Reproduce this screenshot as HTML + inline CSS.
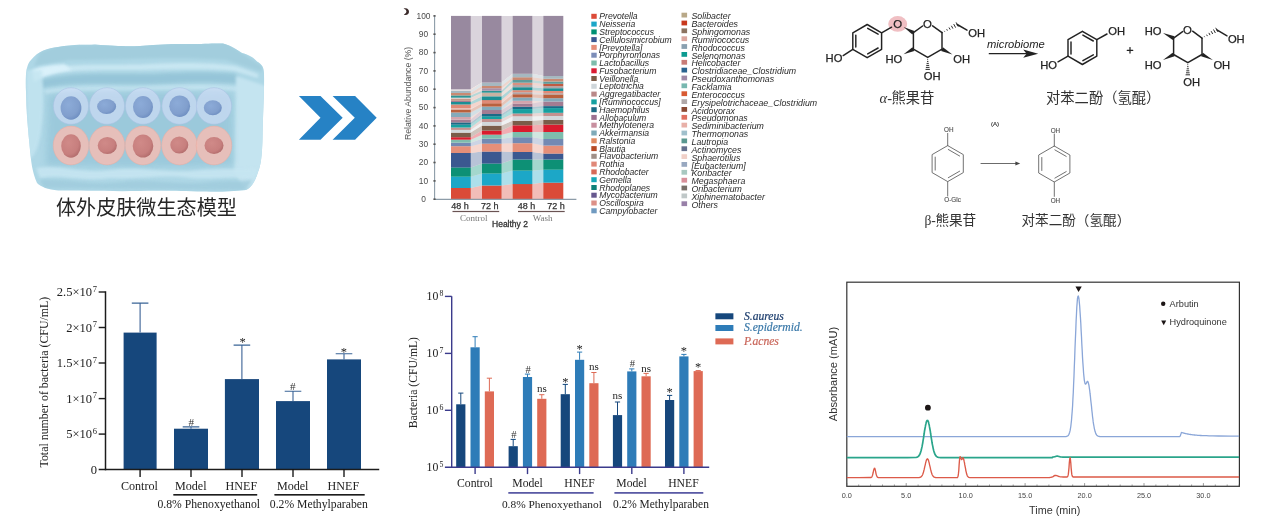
<!DOCTYPE html>
<html><head><meta charset="utf-8"><title>figure</title>
<style>
html,body{margin:0;padding:0;background:#fff;}
body{width:1267px;height:529px;overflow:hidden;position:relative;font-family:"Liberation Sans",sans-serif;}
svg{position:absolute;left:0;top:0;display:block}
.sans{font-family:"Liberation Sans",sans-serif}
.serif{font-family:"Liberation Serif",serif}
.cjk{font-family:"Liberation Sans","Noto Sans CJK SC",sans-serif}
</style></head><body>
<svg width="1267" height="529" viewBox="0 0 1267 529">
<defs><filter id="gb" x="0" y="0" width="1267" height="529" filterUnits="userSpaceOnUse"><feGaussianBlur stdDeviation="0.5"/></filter></defs>
<rect width="1267" height="529" fill="#ffffff"/>
<g filter="url(#gb)">
<g id="ice">
<defs><clipPath id="iceclip"><path d="M31,60 C38,51 48,48 58,47 C75,44 85,45 95,44.5 C115,46 125,46.5 140,46 C160,44.5 170,44 180,44 C200,44.5 212,43 223,43.5 C232,46 237,50 242,53 C250,55 254,58 257,61.5 C262,64 264,68 264,73 C264.5,90 263,110 262.5,139 C262,155 261,165 258,172 C255,182 251,188 246,190 C225,192.5 210,191.5 197,191.5 C175,191 160,190.5 140,191 C110,191.5 80,190.5 58,190.5 C48,189.5 41,187 37,183 C32,172 31,160 30,150 C28,130 26,110 26,92 C25.5,80 26,70 27,68 C28,64 29,62 31,60 Z"/></clipPath><filter id="b1" x="-10%" y="-10%" width="120%" height="120%"><feGaussianBlur stdDeviation="0.7"/></filter><filter id="b2" x="-10%" y="-10%" width="120%" height="120%"><feGaussianBlur stdDeviation="1.6"/></filter><filter id="b3" x="-20%" y="-20%" width="140%" height="140%"><feGaussianBlur stdDeviation="3"/></filter><radialGradient id="gnb" cx="0.38" cy="0.36" r="0.7"><stop offset="0" stop-color="#8cabd8"/><stop offset="0.7" stop-color="#819fcd"/><stop offset="1" stop-color="#6c8dc0"/></radialGradient><radialGradient id="gnr" cx="0.38" cy="0.36" r="0.7"><stop offset="0" stop-color="#d08a88"/><stop offset="0.7" stop-color="#c77f7e"/><stop offset="1" stop-color="#b06a6a"/></radialGradient></defs>
<path d="M31,60 C38,51 48,48 58,47 C75,44 85,45 95,44.5 C115,46 125,46.5 140,46 C160,44.5 170,44 180,44 C200,44.5 212,43 223,43.5 C232,46 237,50 242,53 C250,55 254,58 257,61.5 C262,64 264,68 264,73 C264.5,90 263,110 262.5,139 C262,155 261,165 258,172 C255,182 251,188 246,190 C225,192.5 210,191.5 197,191.5 C175,191 160,190.5 140,191 C110,191.5 80,190.5 58,190.5 C48,189.5 41,187 37,183 C32,172 31,160 30,150 C28,130 26,110 26,92 C25.5,80 26,70 27,68 C28,64 29,62 31,60 Z" fill="#aed7e6" filter="url(#b1)"/>
<g clip-path="url(#iceclip)">
<path d="M40,52 L60,45 L225,42 L262,66 L262,72 L226,60 C180,56 120,60 70,60 L34,66 Z" fill="#a2cddd" filter="url(#b2)"/>
<path d="M36,70 C70,62 110,66 150,64 C190,62 215,63 236,66 L258,74 L258,78 L234,71 C200,68 170,70 140,70 C100,70 70,69 38,76 Z" fill="#cbe8f3" opacity="0.9" filter="url(#b2)"/>
<path d="M32,70 C40,66 52,65 64,64 L72,70 C60,72 48,74 34,82 Z" fill="#dcf2fb" opacity="0.9" filter="url(#b2)"/>
<path d="M40,80 C70,72 110,74 150,74 C190,72 215,72 236,74 L240,84 C200,80 170,84 140,84 C100,84 70,82 42,88 Z" fill="#94c4d7" opacity="0.9" filter="url(#b2)"/>
<path d="M44,90 C80,84 120,88 160,86 C200,84 220,85 238,87 L238,91 C200,89 170,91 140,91 C100,91 70,90 46,94 Z" fill="#c8e6f2" opacity="0.8" filter="url(#b2)"/>
<path d="M236,76 L266,86 L264,175 L246,191 L234,172 Z" fill="#c4e4f0" filter="url(#b2)"/>
<path d="M48,95 C90,92 180,91 232,94 L233,165 C180,168 100,167 46,165 Z" fill="#9ac8da" opacity="0.9" filter="url(#b3)"/>
<path d="M36,168 C60,164 80,174 110,170 C140,166 170,174 200,170 C220,168 240,170 258,168 L254,178 C230,176 210,180 190,178 C160,174 140,180 110,178 C80,182 60,174 40,178 Z" fill="#c6e5f1" opacity="0.9" filter="url(#b2)"/>
<path d="M40,180 C70,178 90,186 120,182 C150,178 180,186 210,182 C230,180 240,182 252,180 L246,190 L44,188 Z" fill="#9fcbdc" opacity="0.8" filter="url(#b2)"/>
<path d="M27,160 C40,158 46,120 42,70 L26,70 Z" fill="#c4e5f1" opacity="0.8" filter="url(#b2)"/>
</g>
<g filter="url(#b1)">
<ellipse cx="71" cy="106" rx="17.6" ry="18.3" fill="#cddcf5" fill-opacity="0.7" stroke="#a9c0e2" stroke-opacity="0.7" stroke-width="0.8"/>
<ellipse cx="107" cy="106" rx="17.6" ry="18.3" fill="#cddcf5" fill-opacity="0.7" stroke="#a9c0e2" stroke-opacity="0.7" stroke-width="0.8"/>
<ellipse cx="143" cy="106" rx="17.6" ry="18.3" fill="#cddcf5" fill-opacity="0.7" stroke="#a9c0e2" stroke-opacity="0.7" stroke-width="0.8"/>
<ellipse cx="179.5" cy="106" rx="17.6" ry="18.3" fill="#cddcf5" fill-opacity="0.7" stroke="#a9c0e2" stroke-opacity="0.7" stroke-width="0.8"/>
<ellipse cx="214" cy="106" rx="17.6" ry="18.3" fill="#cddcf5" fill-opacity="0.7" stroke="#a9c0e2" stroke-opacity="0.7" stroke-width="0.8"/>
<ellipse cx="71" cy="145.5" rx="17.8" ry="19.4" fill="#f2beb4" fill-opacity="0.86" stroke="#e6aca4" stroke-opacity="0.7" stroke-width="0.8"/>
<ellipse cx="107" cy="145.5" rx="17.8" ry="19.4" fill="#f2beb4" fill-opacity="0.86" stroke="#e6aca4" stroke-opacity="0.7" stroke-width="0.8"/>
<ellipse cx="143" cy="145.5" rx="17.8" ry="19.4" fill="#f2beb4" fill-opacity="0.86" stroke="#e6aca4" stroke-opacity="0.7" stroke-width="0.8"/>
<ellipse cx="179.5" cy="145.5" rx="17.8" ry="19.4" fill="#f2beb4" fill-opacity="0.86" stroke="#e6aca4" stroke-opacity="0.7" stroke-width="0.8"/>
<ellipse cx="214" cy="145.5" rx="17.8" ry="19.4" fill="#f2beb4" fill-opacity="0.86" stroke="#e6aca4" stroke-opacity="0.7" stroke-width="0.8"/>
<ellipse cx="71" cy="108" rx="10.4" ry="11.7" fill="url(#gnb)"/>
<ellipse cx="106.6" cy="106.5" rx="9.5" ry="7.5" fill="url(#gnb)"/>
<ellipse cx="143" cy="107" rx="10" ry="11" fill="url(#gnb)"/>
<ellipse cx="179.7" cy="106.2" rx="10.4" ry="10.8" fill="url(#gnb)"/>
<ellipse cx="212.8" cy="107.8" rx="9" ry="7.5" fill="url(#gnb)"/>
<ellipse cx="71" cy="146" rx="9.8" ry="11.7" fill="url(#gnr)"/>
<ellipse cx="107.3" cy="145.5" rx="9.6" ry="8.6" fill="url(#gnr)"/>
<ellipse cx="143" cy="146" rx="10.3" ry="11.5" fill="url(#gnr)"/>
<ellipse cx="179.3" cy="145" rx="9" ry="8.6" fill="url(#gnr)"/>
<ellipse cx="214" cy="145.5" rx="9.5" ry="8.5" fill="url(#gnr)"/>
</g>
</g>
<text class="cjk" x="56" y="214.5" font-size="20.1" fill="#262626">体外皮肤微生态模型</text>
<path fill="#2782c5" d="M298.9,95.9 L320.5,95.9 L342.7,117.8 L320.5,139.7 L298.9,139.7 L320.5,117.8 Z M332.6,95.9 L355.1,95.9 L376.7,117.8 L355.1,139.7 L332.6,139.7 L354.8,117.8 Z"/>
<g id="stack">
<defs><filter id="sb" x="-5%" y="-5%" width="110%" height="110%"><feGaussianBlur stdDeviation="0.45"/></filter></defs>
<g filter="url(#sb)">
<g opacity="0.36">
<path d="M470.8,89.3 L482.0,82.6 L482.0,15.9 L470.8,15.9 Z" fill="#98899f"/>
<path d="M470.8,199.2 L482.0,199.2 L482.0,82.6 L470.8,89.3 Z" fill="#d9a9a0"/>
<path d="M470.8,199.2 L482.0,199.2 L482.0,185.5 L470.8,187.9 Z" fill="#da4b38"/>
<path d="M470.8,187.9 L482.0,185.5 L482.0,173.4 L470.8,176.7 Z" fill="#1fa7c7"/>
<path d="M470.8,176.7 L482.0,173.4 L482.0,163.5 L470.8,167.4 Z" fill="#079075"/>
<path d="M470.8,167.4 L482.0,163.5 L482.0,151.5 L470.8,152.9 Z" fill="#3a5990"/>
<path d="M470.8,152.9 L482.0,151.5 L482.0,143.6 L470.8,146.2 Z" fill="#e58f79"/>
<path d="M470.8,146.2 L482.0,143.6 L482.0,138.7 L470.8,142.7 Z" fill="#7389b3"/>
<path d="M470.8,142.7 L482.0,138.7 L482.0,134.7 L470.8,139.7 Z" fill="#7ebdad"/>
<path d="M470.8,139.7 L482.0,134.7 L482.0,130.6 L470.8,137.2 Z" fill="#d91f2e"/>
<path d="M470.8,137.2 L482.0,130.6 L482.0,125.6 L470.8,132.6 Z" fill="#7a5b48"/>
<path d="M470.8,132.6 L482.0,125.6 L482.0,121.9 L470.8,129.8 Z" fill="#d2d8db"/>
<path d="M470.8,129.8 L482.0,121.9 L482.0,119 L470.8,127.5 Z" fill="#c39290"/>
<path d="M470.8,127.5 L482.0,119 L482.0,116.2 L470.8,124.7 Z" fill="#12a0a0"/>
<path d="M470.8,124.7 L482.0,116.2 L482.0,114 L470.8,122.4 Z" fill="#1b6b87"/>
<path d="M470.8,122.4 L482.0,114 L482.0,110 L470.8,119.6 Z" fill="#a27b92"/>
<path d="M470.8,117 L482.0,110 L482.0,106.6 L470.8,112.5 Z" fill="#84aaba"/>
<path d="M470.8,112.5 L482.0,106.6 L482.0,103.2 L470.8,109.4 Z" fill="#b9603e"/>
<path d="M470.8,108.3 L482.0,103.2 L482.0,100 L470.8,104.5 Z" fill="#e08a76"/>
<path d="M470.8,104.5 L482.0,100 L482.0,96.3 L470.8,102 Z" fill="#1d8f94"/>
<path d="M470.8,100.9 L482.0,96.3 L482.0,92.7 L470.8,98.4 Z" fill="#c49a8c"/>
<path d="M470.8,97.7 L482.0,92.7 L482.0,90.7 L470.8,95.4 Z" fill="#2f9494"/>
<path d="M470.8,95.4 L482.0,88.2 L482.0,85.9 L470.8,92.9 Z" fill="#c98a72"/>
<path d="M470.8,92.9 L482.0,85.9 L482.0,82.6 L470.8,90.7 Z" fill="#a6b8c0"/>
</g>
<g opacity="0.36">
<path d="M501.6,82.6 L512.6,73.8 L512.6,15.9 L501.6,15.9 Z" fill="#98899f"/>
<path d="M501.6,199.2 L512.6,199.2 L512.6,73.8 L501.6,82.6 Z" fill="#d9a9a0"/>
<path d="M501.6,199.2 L512.6,199.2 L512.6,184 L501.6,185.5 Z" fill="#da4b38"/>
<path d="M501.6,185.5 L512.6,184 L512.6,170.5 L501.6,173.4 Z" fill="#1fa7c7"/>
<path d="M501.6,173.4 L512.6,170.5 L512.6,159.5 L501.6,163.5 Z" fill="#079075"/>
<path d="M501.6,163.5 L512.6,159.5 L512.6,151.9 L501.6,151.5 Z" fill="#3a5990"/>
<path d="M501.6,151.5 L512.6,151.9 L512.6,143.2 L501.6,143.6 Z" fill="#e58f79"/>
<path d="M501.6,143.6 L512.6,143.2 L512.6,137.2 L501.6,138.7 Z" fill="#7389b3"/>
<path d="M501.6,138.7 L512.6,137.2 L512.6,131.9 L501.6,134.7 Z" fill="#7ebdad"/>
<path d="M501.6,134.7 L512.6,131.9 L512.6,125.3 L501.6,130.6 Z" fill="#d91f2e"/>
<path d="M501.6,130.6 L512.6,125.3 L512.6,120.7 L501.6,125.6 Z" fill="#7a5b48"/>
<path d="M501.6,125.6 L512.6,120.7 L512.6,116.3 L501.6,121.9 Z" fill="#d2d8db"/>
<path d="M501.6,121.9 L512.6,116.3 L512.6,113.4 L501.6,119 Z" fill="#c39290"/>
<path d="M501.6,119 L512.6,113.4 L512.6,109.1 L501.6,116.2 Z" fill="#12a0a0"/>
<path d="M501.6,116.2 L512.6,109.1 L512.6,106.8 L501.6,114 Z" fill="#1b6b87"/>
<path d="M501.6,114 L512.6,106.8 L512.6,103.5 L501.6,110 Z" fill="#a27b92"/>
<path d="M501.6,110 L512.6,100.8 L512.6,97.5 L501.6,106.6 Z" fill="#84aaba"/>
<path d="M501.6,106.6 L512.6,97.5 L512.6,94.2 L501.6,103.2 Z" fill="#b9603e"/>
<path d="M501.6,103.2 L512.6,92.2 L512.6,90.2 L501.6,100 Z" fill="#e08a76"/>
<path d="M501.6,100 L512.6,90.2 L512.6,87.2 L501.6,96.3 Z" fill="#1d8f94"/>
<path d="M501.6,96.3 L512.6,87.2 L512.6,84.9 L501.6,92.7 Z" fill="#c8b2a2"/>
<path d="M501.6,92.7 L512.6,82.7 L512.6,79.9 L501.6,90.7 Z" fill="#2f9494"/>
<path d="M501.6,88.2 L512.6,79.9 L512.6,77.2 L501.6,85.9 Z" fill="#c98a72"/>
<path d="M501.6,85.9 L512.6,77.2 L512.6,73.8 L501.6,82.6 Z" fill="#a6b8c0"/>
</g>
<g opacity="0.36">
<path d="M532.4,73.8 L543.3,76 L543.3,15.9 L532.4,15.9 Z" fill="#98899f"/>
<path d="M532.4,199.2 L543.3,199.2 L543.3,76 L532.4,73.8 Z" fill="#d9a9a0"/>
<path d="M532.4,199.2 L543.3,199.2 L543.3,182.6 L532.4,184 Z" fill="#da4b38"/>
<path d="M532.4,184 L543.3,182.6 L543.3,169.7 L532.4,170.5 Z" fill="#1fa7c7"/>
<path d="M532.4,170.5 L543.3,169.7 L543.3,159.5 L532.4,159.5 Z" fill="#079075"/>
<path d="M532.4,159.5 L543.3,159.5 L543.3,153.5 L532.4,151.9 Z" fill="#3a5990"/>
<path d="M532.4,151.9 L543.3,153.5 L543.3,145.6 L532.4,143.2 Z" fill="#e58f79"/>
<path d="M532.4,143.2 L543.3,145.6 L543.3,139 L532.4,137.2 Z" fill="#7389b3"/>
<path d="M532.4,137.2 L543.3,139 L543.3,131.9 L532.4,131.9 Z" fill="#7ebdad"/>
<path d="M532.4,131.9 L543.3,131.9 L543.3,124.6 L532.4,125.3 Z" fill="#d91f2e"/>
<path d="M532.4,125.3 L543.3,124.6 L543.3,120 L532.4,120.7 Z" fill="#7a5b48"/>
<path d="M532.4,120.7 L543.3,120 L543.3,116 L532.4,116.3 Z" fill="#d2d8db"/>
<path d="M532.4,116.3 L543.3,116 L543.3,112.7 L532.4,113.4 Z" fill="#c39290"/>
<path d="M532.4,113.4 L543.3,112.7 L543.3,108.1 L532.4,109.1 Z" fill="#12a0a0"/>
<path d="M532.4,109.1 L543.3,108.1 L543.3,106.1 L532.4,106.8 Z" fill="#1b6b87"/>
<path d="M532.4,106.8 L543.3,106.1 L543.3,101.5 L532.4,103.5 Z" fill="#a27b92"/>
<path d="M532.4,100.8 L543.3,101.5 L543.3,98.2 L532.4,97.5 Z" fill="#84aaba"/>
<path d="M532.4,97.5 L543.3,98.2 L543.3,94.4 L532.4,94.2 Z" fill="#b9603e"/>
<path d="M532.4,94.2 L543.3,94.4 L543.3,93.2 L532.4,92.2 Z" fill="#b0a4a6"/>
<path d="M532.4,92.2 L543.3,93.2 L543.3,91 L532.4,90.2 Z" fill="#e08a76"/>
<path d="M532.4,90.2 L543.3,91 L543.3,88.2 L532.4,87.2 Z" fill="#1d8f94"/>
<path d="M532.4,87.2 L543.3,88.2 L543.3,86.2 L532.4,84.9 Z" fill="#b0a4a6"/>
<path d="M532.4,84.9 L543.3,86.2 L543.3,83.7 L532.4,82.7 Z" fill="#d89080"/>
<path d="M532.4,82.7 L543.3,83.7 L543.3,81.5 L532.4,79.9 Z" fill="#5f9b9b"/>
<path d="M532.4,79.9 L543.3,81.5 L543.3,78.7 L532.4,77.2 Z" fill="#c98a72"/>
<path d="M532.4,77.2 L543.3,78.7 L543.3,76 L532.4,73.8 Z" fill="#a6b8c0"/>
</g>
<rect x="451.0" y="187.9" width="19.8" height="11.3" fill="#da4b38"/>
<rect x="451.0" y="176.7" width="19.8" height="11.3" fill="#1fa7c7"/>
<rect x="451.0" y="167.4" width="19.8" height="9.3" fill="#079075"/>
<rect x="451.0" y="152.9" width="19.8" height="14.6" fill="#3a5990"/>
<rect x="451.0" y="146.2" width="19.8" height="6.8" fill="#e58f79"/>
<rect x="451.0" y="142.7" width="19.8" height="3.5" fill="#7389b3"/>
<rect x="451.0" y="139.7" width="19.8" height="3.0" fill="#7ebdad"/>
<rect x="451.0" y="137.2" width="19.8" height="2.5" fill="#d91f2e"/>
<rect x="451.0" y="132.6" width="19.8" height="4.6" fill="#7a5b48"/>
<rect x="451.0" y="129.8" width="19.8" height="2.8" fill="#d2d8db"/>
<rect x="451.0" y="127.5" width="19.8" height="2.4" fill="#c39290"/>
<rect x="451.0" y="124.7" width="19.8" height="2.8" fill="#12a0a0"/>
<rect x="451.0" y="122.4" width="19.8" height="2.3" fill="#1b6b87"/>
<rect x="451.0" y="119.6" width="19.8" height="2.9" fill="#a27b92"/>
<rect x="451.0" y="117.0" width="19.8" height="2.6" fill="#d3a4ac"/>
<rect x="451.0" y="112.5" width="19.8" height="4.5" fill="#84aaba"/>
<rect x="451.0" y="109.4" width="19.8" height="3.1" fill="#b9603e"/>
<rect x="451.0" y="108.3" width="19.8" height="1.2" fill="#e8c2bc"/>
<rect x="451.0" y="104.5" width="19.8" height="3.8" fill="#e08a76"/>
<rect x="451.0" y="102.0" width="19.8" height="2.5" fill="#1d8f94"/>
<rect x="451.0" y="100.9" width="19.8" height="1.1" fill="#a27b92"/>
<rect x="451.0" y="98.4" width="19.8" height="2.5" fill="#c49a8c"/>
<rect x="451.0" y="97.7" width="19.8" height="0.8" fill="#e2dcdc"/>
<rect x="451.0" y="95.4" width="19.8" height="2.3" fill="#2f9494"/>
<rect x="451.0" y="92.9" width="19.8" height="2.5" fill="#c98a72"/>
<rect x="451.0" y="90.7" width="19.8" height="2.3" fill="#a6b8c0"/>
<rect x="451.0" y="89.3" width="19.8" height="1.5" fill="#e2dadd"/>
<rect x="451.0" y="15.9" width="19.8" height="73.4" fill="#98899f"/>
<rect x="482.0" y="185.5" width="19.6" height="13.7" fill="#da4b38"/>
<rect x="482.0" y="173.4" width="19.6" height="12.1" fill="#1fa7c7"/>
<rect x="482.0" y="163.5" width="19.6" height="10.0" fill="#079075"/>
<rect x="482.0" y="151.5" width="19.6" height="12.1" fill="#3a5990"/>
<rect x="482.0" y="143.6" width="19.6" height="8.0" fill="#e58f79"/>
<rect x="482.0" y="138.7" width="19.6" height="5.0" fill="#7389b3"/>
<rect x="482.0" y="134.7" width="19.6" height="4.0" fill="#7ebdad"/>
<rect x="482.0" y="130.6" width="19.6" height="4.1" fill="#d91f2e"/>
<rect x="482.0" y="125.6" width="19.6" height="5.0" fill="#7a5b48"/>
<rect x="482.0" y="121.9" width="19.6" height="3.7" fill="#d2d8db"/>
<rect x="482.0" y="119.0" width="19.6" height="3.0" fill="#c39290"/>
<rect x="482.0" y="116.2" width="19.6" height="2.8" fill="#12a0a0"/>
<rect x="482.0" y="114.0" width="19.6" height="2.3" fill="#1b6b87"/>
<rect x="482.0" y="110.0" width="19.6" height="4.0" fill="#a27b92"/>
<rect x="482.0" y="106.6" width="19.6" height="3.5" fill="#84aaba"/>
<rect x="482.0" y="103.2" width="19.6" height="3.4" fill="#b9603e"/>
<rect x="482.0" y="100.0" width="19.6" height="3.3" fill="#e08a76"/>
<rect x="482.0" y="96.3" width="19.6" height="3.8" fill="#1d8f94"/>
<rect x="482.0" y="92.7" width="19.6" height="3.6" fill="#c8b2a2"/>
<rect x="482.0" y="90.7" width="19.6" height="2.0" fill="#2f9494"/>
<rect x="482.0" y="88.2" width="19.6" height="2.5" fill="#a890a8"/>
<rect x="482.0" y="85.9" width="19.6" height="2.3" fill="#c98a72"/>
<rect x="482.0" y="82.6" width="19.6" height="3.4" fill="#a6b8c0"/>
<rect x="482.0" y="15.9" width="19.6" height="66.7" fill="#98899f"/>
<rect x="512.6" y="184.0" width="19.8" height="15.2" fill="#da4b38"/>
<rect x="512.6" y="170.5" width="19.8" height="13.6" fill="#1fa7c7"/>
<rect x="512.6" y="159.5" width="19.8" height="11.1" fill="#079075"/>
<rect x="512.6" y="151.9" width="19.8" height="7.6" fill="#3a5990"/>
<rect x="512.6" y="143.2" width="19.8" height="8.8" fill="#e58f79"/>
<rect x="512.6" y="137.2" width="19.8" height="6.0" fill="#7389b3"/>
<rect x="512.6" y="131.9" width="19.8" height="5.3" fill="#7ebdad"/>
<rect x="512.6" y="125.3" width="19.8" height="6.7" fill="#d91f2e"/>
<rect x="512.6" y="120.7" width="19.8" height="4.6" fill="#7a5b48"/>
<rect x="512.6" y="116.3" width="19.8" height="4.5" fill="#d2d8db"/>
<rect x="512.6" y="113.4" width="19.8" height="2.9" fill="#c39290"/>
<rect x="512.6" y="109.1" width="19.8" height="4.4" fill="#12a0a0"/>
<rect x="512.6" y="106.8" width="19.8" height="2.3" fill="#1b6b87"/>
<rect x="512.6" y="103.5" width="19.8" height="3.3" fill="#a27b92"/>
<rect x="512.6" y="100.8" width="19.8" height="2.8" fill="#d3a4ac"/>
<rect x="512.6" y="97.5" width="19.8" height="3.3" fill="#84aaba"/>
<rect x="512.6" y="94.2" width="19.8" height="3.3" fill="#b9603e"/>
<rect x="512.6" y="92.2" width="19.8" height="2.0" fill="#b0a4a6"/>
<rect x="512.6" y="90.2" width="19.8" height="2.0" fill="#e08a76"/>
<rect x="512.6" y="87.2" width="19.8" height="3.0" fill="#1d8f94"/>
<rect x="512.6" y="84.9" width="19.8" height="2.3" fill="#b0a4a6"/>
<rect x="512.6" y="82.7" width="19.8" height="2.3" fill="#d89080"/>
<rect x="512.6" y="79.9" width="19.8" height="2.8" fill="#5f9b9b"/>
<rect x="512.6" y="77.2" width="19.8" height="2.8" fill="#c98a72"/>
<rect x="512.6" y="73.8" width="19.8" height="3.5" fill="#a6b8c0"/>
<rect x="512.6" y="15.9" width="19.8" height="57.9" fill="#98899f"/>
<rect x="543.3" y="182.6" width="20.0" height="16.6" fill="#da4b38"/>
<rect x="543.3" y="169.7" width="20.0" height="13.0" fill="#1fa7c7"/>
<rect x="543.3" y="159.5" width="20.0" height="10.2" fill="#079075"/>
<rect x="543.3" y="153.5" width="20.0" height="6.0" fill="#3a5990"/>
<rect x="543.3" y="145.6" width="20.0" height="8.0" fill="#e58f79"/>
<rect x="543.3" y="139.0" width="20.0" height="6.6" fill="#7389b3"/>
<rect x="543.3" y="131.9" width="20.0" height="7.1" fill="#7ebdad"/>
<rect x="543.3" y="124.6" width="20.0" height="7.4" fill="#d91f2e"/>
<rect x="543.3" y="120.0" width="20.0" height="4.6" fill="#7a5b48"/>
<rect x="543.3" y="116.0" width="20.0" height="4.0" fill="#d2d8db"/>
<rect x="543.3" y="112.7" width="20.0" height="3.3" fill="#c39290"/>
<rect x="543.3" y="108.1" width="20.0" height="4.7" fill="#12a0a0"/>
<rect x="543.3" y="106.1" width="20.0" height="2.0" fill="#1b6b87"/>
<rect x="543.3" y="101.5" width="20.0" height="4.6" fill="#a27b92"/>
<rect x="543.3" y="98.2" width="20.0" height="3.3" fill="#84aaba"/>
<rect x="543.3" y="94.4" width="20.0" height="3.8" fill="#b9603e"/>
<rect x="543.3" y="93.2" width="20.0" height="1.3" fill="#b0a4a6"/>
<rect x="543.3" y="91.0" width="20.0" height="2.3" fill="#e08a76"/>
<rect x="543.3" y="88.2" width="20.0" height="2.8" fill="#1d8f94"/>
<rect x="543.3" y="86.2" width="20.0" height="2.0" fill="#b0a4a6"/>
<rect x="543.3" y="83.7" width="20.0" height="2.5" fill="#c05a42"/>
<rect x="543.3" y="81.5" width="20.0" height="2.3" fill="#5f9b9b"/>
<rect x="543.3" y="78.7" width="20.0" height="2.8" fill="#c98a72"/>
<rect x="543.3" y="76.0" width="20.0" height="2.8" fill="#a6b8c0"/>
<rect x="543.3" y="15.9" width="20.0" height="60.1" fill="#98899f"/>
</g>
<path d="M434.6,15.5 V199.4 H576.4" fill="none" stroke="#8d9ca8" stroke-width="1.1"/>
<rect x="433.4" y="198.4" width="2.2" height="1.6" fill="#555"/>
<text class="sans" x="423.5" y="201.8" font-size="8.4" fill="#4a4a4a" text-anchor="middle">0</text>
<rect x="433.4" y="180.1" width="2.2" height="1.6" fill="#555"/>
<text class="sans" x="423.5" y="183.5" font-size="8.4" fill="#4a4a4a" text-anchor="middle">10</text>
<rect x="433.4" y="161.7" width="2.2" height="1.6" fill="#555"/>
<text class="sans" x="423.5" y="165.1" font-size="8.4" fill="#4a4a4a" text-anchor="middle">20</text>
<rect x="433.4" y="143.4" width="2.2" height="1.6" fill="#555"/>
<text class="sans" x="423.5" y="146.8" font-size="8.4" fill="#4a4a4a" text-anchor="middle">30</text>
<rect x="433.4" y="125.1" width="2.2" height="1.6" fill="#555"/>
<text class="sans" x="423.5" y="128.5" font-size="8.4" fill="#4a4a4a" text-anchor="middle">40</text>
<rect x="433.4" y="106.8" width="2.2" height="1.6" fill="#555"/>
<text class="sans" x="423.5" y="110.1" font-size="8.4" fill="#4a4a4a" text-anchor="middle">50</text>
<rect x="433.4" y="88.4" width="2.2" height="1.6" fill="#555"/>
<text class="sans" x="423.5" y="91.8" font-size="8.4" fill="#4a4a4a" text-anchor="middle">60</text>
<rect x="433.4" y="70.1" width="2.2" height="1.6" fill="#555"/>
<text class="sans" x="423.5" y="73.5" font-size="8.4" fill="#4a4a4a" text-anchor="middle">70</text>
<rect x="433.4" y="51.8" width="2.2" height="1.6" fill="#555"/>
<text class="sans" x="423.5" y="55.2" font-size="8.4" fill="#4a4a4a" text-anchor="middle">80</text>
<rect x="433.4" y="33.4" width="2.2" height="1.6" fill="#555"/>
<text class="sans" x="423.5" y="36.8" font-size="8.4" fill="#4a4a4a" text-anchor="middle">90</text>
<rect x="433.4" y="15.1" width="2.2" height="1.6" fill="#555"/>
<text class="sans" x="423.5" y="18.5" font-size="8.4" fill="#4a4a4a" text-anchor="middle">100</text>
<text class="sans" transform="translate(411.2,93.4) rotate(-90)" font-size="8.7" fill="#555" text-anchor="middle">Relative Abundance (%)</text>
<text class="sans" x="460.1" y="208.5" font-size="9" fill="#333" stroke="#333" stroke-width="0.25" text-anchor="middle">48 h</text>
<text class="sans" x="489.8" y="208.5" font-size="9" fill="#333" stroke="#333" stroke-width="0.25" text-anchor="middle">72 h</text>
<text class="sans" x="526.5" y="208.5" font-size="9" fill="#333" stroke="#333" stroke-width="0.25" text-anchor="middle">48 h</text>
<text class="sans" x="556" y="208.5" font-size="9" fill="#333" stroke="#333" stroke-width="0.25" text-anchor="middle">72 h</text>
<rect x="452.5" y="210.9" width="46.7" height="1.2" fill="#6a5252"/>
<rect x="518" y="210.9" width="46.7" height="1.2" fill="#6a5252"/>
<text class="serif" x="473.8" y="220.6" font-size="9" fill="#777" text-anchor="middle">Control</text>
<text class="serif" x="542.7" y="220.6" font-size="9" fill="#777" text-anchor="middle">Wash</text>
<text class="sans" x="510" y="227" font-size="8.5" fill="#333" stroke="#333" stroke-width="0.3" text-anchor="middle">Healthy 2</text>
<path d="M403.6,8.6 C407.6,7.6 409,10 409,11.8 C409,13.8 407.4,15.6 403.8,14.8 C405.8,13.6 406.4,12.6 406.4,11.6 C406.4,10.4 405.6,9.4 403.6,8.6 Z" fill="#3b2b2b"/>
<rect x="591.3" y="13.8" width="5.4" height="5" fill="#dc4b37"/>
<text class="sans" x="599.3" y="19.4" font-size="8.65" font-style="italic" fill="#2a2a2a">Prevotella</text>
<rect x="591.3" y="21.6" width="5.4" height="5" fill="#1ea6c8"/>
<text class="sans" x="599.3" y="27.2" font-size="8.65" font-style="italic" fill="#2a2a2a">Neisseria</text>
<rect x="591.3" y="29.4" width="5.4" height="5" fill="#069073"/>
<text class="sans" x="599.3" y="35.0" font-size="8.65" font-style="italic" fill="#2a2a2a">Streptococcus</text>
<rect x="591.3" y="37.1" width="5.4" height="5" fill="#3b5892"/>
<text class="sans" x="599.3" y="42.7" font-size="8.65" font-style="italic" fill="#2a2a2a">Cellulosimicrobium</text>
<rect x="591.3" y="44.9" width="5.4" height="5" fill="#e58e78"/>
<text class="sans" x="599.3" y="50.5" font-size="8.65" font-style="italic" fill="#2a2a2a">[Prevotella]</text>
<rect x="591.3" y="52.7" width="5.4" height="5" fill="#7b8db8"/>
<text class="sans" x="599.3" y="58.3" font-size="8.65" font-style="italic" fill="#2a2a2a">Porphyromonas</text>
<rect x="591.3" y="60.5" width="5.4" height="5" fill="#7ebcac"/>
<text class="sans" x="599.3" y="66.1" font-size="8.65" font-style="italic" fill="#2a2a2a">Lactobacillus</text>
<rect x="591.3" y="68.3" width="5.4" height="5" fill="#da1f33"/>
<text class="sans" x="599.3" y="73.9" font-size="8.65" font-style="italic" fill="#2a2a2a">Fusobacterium</text>
<rect x="591.3" y="76.0" width="5.4" height="5" fill="#7b5b47"/>
<text class="sans" x="599.3" y="81.6" font-size="8.65" font-style="italic" fill="#2a2a2a">Veillonella</text>
<rect x="591.3" y="83.8" width="5.4" height="5" fill="#cfd6da"/>
<text class="sans" x="599.3" y="89.4" font-size="8.65" font-style="italic" fill="#2a2a2a">Leptotrichia</text>
<rect x="591.3" y="91.6" width="5.4" height="5" fill="#b98888"/>
<text class="sans" x="599.3" y="97.2" font-size="8.65" font-style="italic" fill="#2a2a2a">Aggregatibacter</text>
<rect x="591.3" y="99.4" width="5.4" height="5" fill="#14a0a0"/>
<text class="sans" x="599.3" y="105.0" font-size="8.65" font-style="italic" fill="#2a2a2a">[Ruminococcus]</text>
<rect x="591.3" y="107.2" width="5.4" height="5" fill="#1b6b85"/>
<text class="sans" x="599.3" y="112.8" font-size="8.65" font-style="italic" fill="#2a2a2a">Haemophilus</text>
<rect x="591.3" y="114.9" width="5.4" height="5" fill="#9b7090"/>
<text class="sans" x="599.3" y="120.5" font-size="8.65" font-style="italic" fill="#2a2a2a">Allobaculum</text>
<rect x="591.3" y="122.7" width="5.4" height="5" fill="#c890a0"/>
<text class="sans" x="599.3" y="128.3" font-size="8.65" font-style="italic" fill="#2a2a2a">Methylotenera</text>
<rect x="591.3" y="130.5" width="5.4" height="5" fill="#7faab8"/>
<text class="sans" x="599.3" y="136.1" font-size="8.65" font-style="italic" fill="#2a2a2a">Akkermansia</text>
<rect x="591.3" y="138.3" width="5.4" height="5" fill="#df8a62"/>
<text class="sans" x="599.3" y="143.9" font-size="8.65" font-style="italic" fill="#2a2a2a">Ralstonia</text>
<rect x="591.3" y="146.1" width="5.4" height="5" fill="#b64c28"/>
<text class="sans" x="599.3" y="151.7" font-size="8.65" font-style="italic" fill="#2a2a2a">Blautia</text>
<rect x="591.3" y="153.8" width="5.4" height="5" fill="#a09088"/>
<text class="sans" x="599.3" y="159.4" font-size="8.65" font-style="italic" fill="#2a2a2a">Flavobacterium</text>
<rect x="591.3" y="161.6" width="5.4" height="5" fill="#e08878"/>
<text class="sans" x="599.3" y="167.2" font-size="8.65" font-style="italic" fill="#2a2a2a">Rothia</text>
<rect x="591.3" y="169.4" width="5.4" height="5" fill="#d66a58"/>
<text class="sans" x="599.3" y="175.0" font-size="8.65" font-style="italic" fill="#2a2a2a">Rhodobacter</text>
<rect x="591.3" y="177.2" width="5.4" height="5" fill="#18a8b8"/>
<text class="sans" x="599.3" y="182.8" font-size="8.65" font-style="italic" fill="#2a2a2a">Gemella</text>
<rect x="591.3" y="185.0" width="5.4" height="5" fill="#0a8078"/>
<text class="sans" x="599.3" y="190.6" font-size="8.65" font-style="italic" fill="#2a2a2a">Rhodoplanes</text>
<rect x="591.3" y="192.7" width="5.4" height="5" fill="#66588e"/>
<text class="sans" x="599.3" y="198.3" font-size="8.65" font-style="italic" fill="#2a2a2a">Mycobacterium</text>
<rect x="591.3" y="200.5" width="5.4" height="5" fill="#dc9088"/>
<text class="sans" x="599.3" y="206.1" font-size="8.65" font-style="italic" fill="#2a2a2a">Oscillospira</text>
<rect x="591.3" y="208.3" width="5.4" height="5" fill="#6f9ac0"/>
<text class="sans" x="599.3" y="213.9" font-size="8.65" font-style="italic" fill="#2a2a2a">Campylobacter</text>
<rect x="681.5" y="12.7" width="5.6" height="4.8" fill="#b8a888"/>
<text class="sans" x="691.5" y="19.2" font-size="8.8" font-style="italic" fill="#2a2a2a">Solibacter</text>
<rect x="681.5" y="20.6" width="5.6" height="4.8" fill="#c8391f"/>
<text class="sans" x="691.5" y="27.1" font-size="8.8" font-style="italic" fill="#2a2a2a">Bacteroides</text>
<rect x="681.5" y="28.4" width="5.6" height="4.8" fill="#8b7360"/>
<text class="sans" x="691.5" y="34.9" font-size="8.8" font-style="italic" fill="#2a2a2a">Sphingomonas</text>
<rect x="681.5" y="36.3" width="5.6" height="4.8" fill="#dca8a0"/>
<text class="sans" x="691.5" y="42.8" font-size="8.8" font-style="italic" fill="#2a2a2a">Ruminococcus</text>
<rect x="681.5" y="44.1" width="5.6" height="4.8" fill="#8aa0b0"/>
<text class="sans" x="691.5" y="50.6" font-size="8.8" font-style="italic" fill="#2a2a2a">Rhodococcus</text>
<rect x="681.5" y="52.0" width="5.6" height="4.8" fill="#0a9a90"/>
<text class="sans" x="691.5" y="58.5" font-size="8.8" font-style="italic" fill="#2a2a2a">Selenomonas</text>
<rect x="681.5" y="59.9" width="5.6" height="4.8" fill="#c87c78"/>
<text class="sans" x="691.5" y="66.4" font-size="8.8" font-style="italic" fill="#2a2a2a">Helicobacter</text>
<rect x="681.5" y="67.7" width="5.6" height="4.8" fill="#2a6490"/>
<text class="sans" x="691.5" y="74.2" font-size="8.8" font-style="italic" fill="#2a2a2a">Clostridiaceae_Clostridium</text>
<rect x="681.5" y="75.6" width="5.6" height="4.8" fill="#a08aa8"/>
<text class="sans" x="691.5" y="82.1" font-size="8.8" font-style="italic" fill="#2a2a2a">Pseudoxanthomonas</text>
<rect x="681.5" y="83.4" width="5.6" height="4.8" fill="#78b8b0"/>
<text class="sans" x="691.5" y="89.9" font-size="8.8" font-style="italic" fill="#2a2a2a">Facklamia</text>
<rect x="681.5" y="91.3" width="5.6" height="4.8" fill="#d85a30"/>
<text class="sans" x="691.5" y="97.8" font-size="8.8" font-style="italic" fill="#2a2a2a">Enterococcus</text>
<rect x="681.5" y="99.2" width="5.6" height="4.8" fill="#b0a8a8"/>
<text class="sans" x="691.5" y="105.7" font-size="8.8" font-style="italic" fill="#2a2a2a">Erysipelotrichaceae_Clostridium</text>
<rect x="681.5" y="107.0" width="5.6" height="4.8" fill="#8a4830"/>
<text class="sans" x="691.5" y="113.5" font-size="8.8" font-style="italic" fill="#2a2a2a">Acidovorax</text>
<rect x="681.5" y="114.9" width="5.6" height="4.8" fill="#e07060"/>
<text class="sans" x="691.5" y="121.4" font-size="8.8" font-style="italic" fill="#2a2a2a">Pseudomonas</text>
<rect x="681.5" y="122.7" width="5.6" height="4.8" fill="#e8b0a8"/>
<text class="sans" x="691.5" y="129.2" font-size="8.8" font-style="italic" fill="#2a2a2a">Sediminibacterium</text>
<rect x="681.5" y="130.6" width="5.6" height="4.8" fill="#a0c0cc"/>
<text class="sans" x="691.5" y="137.1" font-size="8.8" font-style="italic" fill="#2a2a2a">Thermomonas</text>
<rect x="681.5" y="138.5" width="5.6" height="4.8" fill="#5a9890"/>
<text class="sans" x="691.5" y="145.0" font-size="8.8" font-style="italic" fill="#2a2a2a">Lautropia</text>
<rect x="681.5" y="146.3" width="5.6" height="4.8" fill="#66708e"/>
<text class="sans" x="691.5" y="152.8" font-size="8.8" font-style="italic" fill="#2a2a2a">Actinomyces</text>
<rect x="681.5" y="154.2" width="5.6" height="4.8" fill="#f0d0c8"/>
<text class="sans" x="691.5" y="160.7" font-size="8.8" font-style="italic" fill="#2a2a2a">Sphaerotilus</text>
<rect x="681.5" y="162.0" width="5.6" height="4.8" fill="#98a8c0"/>
<text class="sans" x="691.5" y="168.5" font-size="8.8" font-style="italic" fill="#2a2a2a">[Eubacterium]</text>
<rect x="681.5" y="169.9" width="5.6" height="4.8" fill="#a8c8c0"/>
<text class="sans" x="691.5" y="176.4" font-size="8.8" font-style="italic" fill="#2a2a2a">Koribacter</text>
<rect x="681.5" y="177.8" width="5.6" height="4.8" fill="#d8909a"/>
<text class="sans" x="691.5" y="184.3" font-size="8.8" font-style="italic" fill="#2a2a2a">Megasphaera</text>
<rect x="681.5" y="185.6" width="5.6" height="4.8" fill="#78706a"/>
<text class="sans" x="691.5" y="192.1" font-size="8.8" font-style="italic" fill="#2a2a2a">Oribacterium</text>
<rect x="681.5" y="193.5" width="5.6" height="4.8" fill="#c0c8c8"/>
<text class="sans" x="691.5" y="200.0" font-size="8.8" font-style="italic" fill="#2a2a2a">Xiphinematobacter</text>
<rect x="681.5" y="201.3" width="5.6" height="4.8" fill="#9880a8"/>
<text class="sans" x="691.5" y="207.8" font-size="8.8" font-style="italic" fill="#2a2a2a">Others</text>
</g>
<g id="chem">
<ellipse cx="897.7" cy="23.9" rx="9.5" ry="7.8" fill="#f0bfc3"/>
<path d="M867.2,24.5 L881.6,32.8 L881.6,49.4 L867.2,57.7 L852.8,49.4 L852.8,32.8 L867.2,24.5" stroke="#222" stroke-width="1.45" fill="none" stroke-linecap="round" stroke-linejoin="round"/>
<path d="M867.7,28.3 L878.1,34.2" stroke="#222" stroke-width="1.45" fill="none" stroke-linecap="round" stroke-linejoin="round"/>
<path d="M878.1,48.0 L867.7,53.9" stroke="#222" stroke-width="1.45" fill="none" stroke-linecap="round" stroke-linejoin="round"/>
<path d="M855.8,47.1 L855.8,35.1" stroke="#222" stroke-width="1.45" fill="none" stroke-linecap="round" stroke-linejoin="round"/>
<path d="M852.8,49.4 L843.2,55.6" stroke="#222" stroke-width="1.45" fill="none" stroke-linecap="round" stroke-linejoin="round"/>
<text class="sans" x="825.6" y="62.4" font-size="11.2" fill="#222" text-anchor="start" stroke="#222" stroke-width="0.25">HO</text>
<path d="M881.6,32.8 L891.6,27.2" stroke="#222" stroke-width="1.45" fill="none" stroke-linecap="round" stroke-linejoin="round"/>
<text class="sans" x="897.7" y="27.9" font-size="11.4" fill="#222" text-anchor="middle" stroke="#222" stroke-width="0.25">O</text>
<path d="M903.6,27.0 L912.4,34.4 L914.4,30.9 Z" fill="#222"/>
<path d="M913.4,32.6 L922.6,26.0" stroke="#222" stroke-width="1.45" fill="none" stroke-linecap="round" stroke-linejoin="round"/>
<path d="M932.6,25.8 L942.0,32.6" stroke="#222" stroke-width="1.45" fill="none" stroke-linecap="round" stroke-linejoin="round"/>
<path d="M942.0,32.6 L942.0,49.1 L927.7,57.4 L913.4,49.2 L913.4,32.6" stroke="#222" stroke-width="1.45" fill="none" stroke-linecap="round" stroke-linejoin="round"/>
<text class="sans" x="927.4" y="27.9" font-size="11.4" fill="#222" text-anchor="middle" stroke="#222" stroke-width="0.25">O</text>
<path d="M944.7,31.6 L944.3,30.9 M947.4,30.6 L946.7,29.2 M950.2,29.6 L949.0,27.5 M952.9,28.6 L951.4,25.8 M955.6,27.6 L953.7,24.1 M958.3,26.6 L956.1,22.4" stroke="#222" stroke-width="0.95" fill="none"/>
<path d="M957.2,24.5 L967.0,30.2" stroke="#222" stroke-width="1.45" fill="none" stroke-linecap="round" stroke-linejoin="round"/>
<text class="sans" x="968.3" y="36.8" font-size="11.2" fill="#222" text-anchor="start" stroke="#222" stroke-width="0.25">OH</text>
<path d="M903.6,54.2 L914.3,51.0 L912.5,47.3 Z" fill="#222"/>
<text class="sans" x="885.5" y="63.0" font-size="11.2" fill="#222" text-anchor="start" stroke="#222" stroke-width="0.25">HO</text>
<path d="M952.4,54.4 L942.9,47.3 L941.1,51.0 Z" fill="#222"/>
<text class="sans" x="953.2" y="63.0" font-size="11.2" fill="#222" text-anchor="start" stroke="#222" stroke-width="0.25">OH</text>
<path d="M927.3,59.4 L928.1,59.4 M927.0,61.4 L928.4,61.4 M926.6,63.4 L928.8,63.4 M926.2,65.4 L929.2,65.4 M925.9,67.4 L929.5,67.4 M925.5,69.4 L929.9,69.4" stroke="#222" stroke-width="0.95" fill="none"/>
<text class="sans" x="923.7" y="79.8" font-size="11.2" fill="#222" text-anchor="start" stroke="#222" stroke-width="0.25">OH</text>
<text class="serif" x="879.6" y="102.9" font-size="14.5" font-style="italic" fill="#333">α</text>
<text class="serif" x="887.2" y="102.9" font-size="14.5" fill="#333">-</text>
<text class="cjk" x="891.5" y="103" font-size="14.3" fill="#333">熊果苷</text>
<text class="sans" x="987" y="47.6" font-size="11.2" font-style="italic" fill="#222">microbiome</text>
<path d="M989.3,53.7 L1028.0,53.7" stroke="#222" stroke-width="1.3" fill="none" stroke-linecap="round" stroke-linejoin="round"/>
<path d="M1038.2,53.7 L1023.2,49.6 L1026.6,53.7 L1023.2,57.8 Z" fill="#222"/>
<path d="M1082.4,31.3 L1096.8,39.6 L1096.8,56.2 L1082.4,64.5 L1068.0,56.2 L1068.0,39.6 L1082.4,31.3" stroke="#222" stroke-width="1.45" fill="none" stroke-linecap="round" stroke-linejoin="round"/>
<path d="M1082.9,35.1 L1093.3,41.0" stroke="#222" stroke-width="1.45" fill="none" stroke-linecap="round" stroke-linejoin="round"/>
<path d="M1093.3,54.8 L1082.9,60.7" stroke="#222" stroke-width="1.45" fill="none" stroke-linecap="round" stroke-linejoin="round"/>
<path d="M1071.0,53.9 L1071.0,41.9" stroke="#222" stroke-width="1.45" fill="none" stroke-linecap="round" stroke-linejoin="round"/>
<path d="M1096.8,39.6 L1107.0,34.0" stroke="#222" stroke-width="1.45" fill="none" stroke-linecap="round" stroke-linejoin="round"/>
<text class="sans" x="1108.2" y="35.2" font-size="11.2" fill="#222" text-anchor="start" stroke="#222" stroke-width="0.25">OH</text>
<path d="M1068.0,56.2 L1058.0,61.8" stroke="#222" stroke-width="1.45" fill="none" stroke-linecap="round" stroke-linejoin="round"/>
<text class="sans" x="1040.2" y="69.2" font-size="11.2" fill="#222" text-anchor="start" stroke="#222" stroke-width="0.25">HO</text>
<path d="M1127.2,50.3 L1132.8,50.3" stroke="#222" stroke-width="1.2" fill="none" stroke-linecap="round" stroke-linejoin="round"/>
<path d="M1130.0,47.5 L1130.0,53.1" stroke="#222" stroke-width="1.2" fill="none" stroke-linecap="round" stroke-linejoin="round"/>
<path d="M1173.6,38.1 L1182.6,31.6" stroke="#222" stroke-width="1.45" fill="none" stroke-linecap="round" stroke-linejoin="round"/>
<path d="M1192.6,31.2 L1202.0,38.1" stroke="#222" stroke-width="1.45" fill="none" stroke-linecap="round" stroke-linejoin="round"/>
<path d="M1202.0,38.1 L1202.0,54.5 L1187.8,62.7 L1173.6,54.5 L1173.6,38.1" stroke="#222" stroke-width="1.45" fill="none" stroke-linecap="round" stroke-linejoin="round"/>
<text class="sans" x="1187.4" y="33.9" font-size="11.4" fill="#222" text-anchor="middle" stroke="#222" stroke-width="0.25">O</text>
<path d="M1163.0,32.9 L1172.7,39.9 L1174.5,36.3 Z" fill="#222"/>
<text class="sans" x="1144.7" y="34.6" font-size="11.2" fill="#222" text-anchor="start" stroke="#222" stroke-width="0.25">HO</text>
<path d="M1163.0,60.1 L1174.6,56.3 L1172.6,52.7 Z" fill="#222"/>
<text class="sans" x="1144.7" y="69.2" font-size="11.2" fill="#222" text-anchor="start" stroke="#222" stroke-width="0.25">HO</text>
<path d="M1204.7,37.1 L1204.3,36.4 M1207.4,36.1 L1206.6,34.7 M1210.0,35.1 L1208.9,32.9 M1212.7,34.0 L1211.2,31.2 M1215.4,33.0 L1213.5,29.5 M1218.1,32.0 L1215.7,27.8" stroke="#222" stroke-width="0.95" fill="none"/>
<path d="M1216.9,29.9 L1227.0,35.8" stroke="#222" stroke-width="1.45" fill="none" stroke-linecap="round" stroke-linejoin="round"/>
<text class="sans" x="1227.9" y="43.1" font-size="11.2" fill="#222" text-anchor="start" stroke="#222" stroke-width="0.25">OH</text>
<path d="M1212.8,60.1 L1202.9,52.7 L1201.1,56.3 Z" fill="#222"/>
<text class="sans" x="1213.4" y="69.2" font-size="11.2" fill="#222" text-anchor="start" stroke="#222" stroke-width="0.25">OH</text>
<path d="M1187.4,64.7 L1188.2,64.7 M1187.1,66.7 L1188.5,66.7 M1186.7,68.8 L1188.9,68.8 M1186.3,70.8 L1189.3,70.8 M1186.0,72.8 L1189.6,72.8 M1185.6,74.8 L1190.0,74.8" stroke="#222" stroke-width="0.95" fill="none"/>
<text class="sans" x="1183.2" y="86.2" font-size="11.2" fill="#222" text-anchor="start" stroke="#222" stroke-width="0.25">OH</text>
<text class="cjk" x="1046" y="103" font-size="14.3" fill="#333">对苯二酚（氢醌）</text>
<path d="M947.7,145.6 L963.3,154.6 L963.3,172.6 L947.7,181.6 L932.1,172.6 L932.1,154.6 L947.7,145.6" stroke="#6a6a6a" stroke-width="0.95" fill="none" stroke-linecap="round" stroke-linejoin="round"/>
<path d="M948.3,149.5 L959.6,156.0" stroke="#6a6a6a" stroke-width="0.95" fill="none" stroke-linecap="round" stroke-linejoin="round"/>
<path d="M959.6,171.2 L948.3,177.7" stroke="#6a6a6a" stroke-width="0.95" fill="none" stroke-linecap="round" stroke-linejoin="round"/>
<path d="M935.2,170.1 L935.2,157.1" stroke="#6a6a6a" stroke-width="0.95" fill="none" stroke-linecap="round" stroke-linejoin="round"/>
<path d="M947.7,145.6 L947.7,133.4" stroke="#6a6a6a" stroke-width="0.95" fill="none" stroke-linecap="round" stroke-linejoin="round"/>
<text class="sans" x="948.8" y="131.5" font-size="6.3" fill="#555" text-anchor="middle" stroke="#555" stroke-width="0.15">OH</text>
<path d="M947.7,181.6 L947.7,196.0" stroke="#6a6a6a" stroke-width="0.95" fill="none" stroke-linecap="round" stroke-linejoin="round"/>
<text class="sans" x="952.6" y="202.0" font-size="6.3" fill="#555" text-anchor="middle" stroke="#555" stroke-width="0.15">O-Glc</text>
<text class="sans" x="995.0" y="126.0" font-size="6.1" fill="#333" text-anchor="middle" stroke="#333" stroke-width="0.15">(A)</text>
<path d="M981.0,163.5 L1017.0,163.5" stroke="#444" stroke-width="0.8" fill="none" stroke-linecap="round" stroke-linejoin="round"/>
<path d="M1020.2,163.5 L1015.4,161.6 L1015.4,165.4 Z" fill="#444"/>
<path d="M1054.3,146.0 L1069.9,155.0 L1069.9,173.0 L1054.3,182.0 L1038.7,173.0 L1038.7,155.0 L1054.3,146.0" stroke="#6a6a6a" stroke-width="0.95" fill="none" stroke-linecap="round" stroke-linejoin="round"/>
<path d="M1054.9,149.9 L1066.2,156.4" stroke="#6a6a6a" stroke-width="0.95" fill="none" stroke-linecap="round" stroke-linejoin="round"/>
<path d="M1066.2,171.6 L1054.9,178.1" stroke="#6a6a6a" stroke-width="0.95" fill="none" stroke-linecap="round" stroke-linejoin="round"/>
<path d="M1041.8,170.5 L1041.8,157.5" stroke="#6a6a6a" stroke-width="0.95" fill="none" stroke-linecap="round" stroke-linejoin="round"/>
<path d="M1054.3,146.0 L1054.3,134.0" stroke="#6a6a6a" stroke-width="0.95" fill="none" stroke-linecap="round" stroke-linejoin="round"/>
<text class="sans" x="1055.4" y="132.5" font-size="6.3" fill="#555" text-anchor="middle" stroke="#555" stroke-width="0.15">OH</text>
<path d="M1054.3,182.0 L1054.3,196.4" stroke="#6a6a6a" stroke-width="0.95" fill="none" stroke-linecap="round" stroke-linejoin="round"/>
<text class="sans" x="1055.4" y="203.2" font-size="6.3" fill="#555" text-anchor="middle" stroke="#555" stroke-width="0.15">OH</text>
<text class="serif" x="924.4" y="225.2" font-size="13.6" fill="#333">β-</text>
<text class="cjk" x="935.4" y="225.3" font-size="13.6" fill="#333">熊果苷</text>
<text class="cjk" x="1021.5" y="225.3" font-size="13.6" fill="#333">对苯二酚（氢醌）</text>
</g>
<g id="bar1">
<rect x="123.6" y="332.6" width="33.0" height="137.0" fill="#14467c"/>
<path d="M140.1,332.6 V303.1 M131.8,303.1 H148.4" stroke="#3a6396" stroke-width="1.1" fill="none"/>
<rect x="174.0" y="428.7" width="34.0" height="40.9" fill="#14467c"/>
<path d="M191.0,428.7 V426.9 M182.7,426.9 H199.3" stroke="#3a6396" stroke-width="1.1" fill="none"/>
<rect x="224.9" y="379.1" width="34.1" height="90.5" fill="#14467c"/>
<path d="M241.9,379.1 V345.1 M233.6,345.1 H250.2" stroke="#3a6396" stroke-width="1.1" fill="none"/>
<rect x="276.0" y="401.1" width="34.0" height="68.5" fill="#14467c"/>
<path d="M293.0,401.1 V391.3 M284.7,391.3 H301.3" stroke="#3a6396" stroke-width="1.1" fill="none"/>
<rect x="327.0" y="359.4" width="34.0" height="110.2" fill="#14467c"/>
<path d="M344.0,359.4 V353.7 M335.7,353.7 H352.3" stroke="#3a6396" stroke-width="1.1" fill="none"/>
<path d="M105.5,291.3 V470.3" stroke="#1a1a1a" stroke-width="1.5" fill="none"/>
<path d="M98.7,469.6 H379.2" stroke="#1a1a1a" stroke-width="1.5" fill="none"/>
<text class="serif" x="97.0" y="473.9" font-size="12.5" fill="#222" text-anchor="end">0<tspan font-size="8.5" dx="0.8" dy="-4.5"></tspan></text>
<path d="M98.7,434.1 H105.5" stroke="#1a1a1a" stroke-width="1.4"/>
<text class="serif" x="97.0" y="438.4" font-size="12.5" fill="#222" text-anchor="end">5×10<tspan font-size="8.5" dx="0.8" dy="-4.5">6</tspan></text>
<path d="M98.7,398.6 H105.5" stroke="#1a1a1a" stroke-width="1.4"/>
<text class="serif" x="97.0" y="402.9" font-size="12.5" fill="#222" text-anchor="end">1×10<tspan font-size="8.5" dx="0.8" dy="-4.5">7</tspan></text>
<path d="M98.7,363.0 H105.5" stroke="#1a1a1a" stroke-width="1.4"/>
<text class="serif" x="97.0" y="367.3" font-size="12.5" fill="#222" text-anchor="end">1.5×10<tspan font-size="8.5" dx="0.8" dy="-4.5">7</tspan></text>
<path d="M98.7,327.5 H105.5" stroke="#1a1a1a" stroke-width="1.4"/>
<text class="serif" x="97.0" y="331.8" font-size="12.5" fill="#222" text-anchor="end">2×10<tspan font-size="8.5" dx="0.8" dy="-4.5">7</tspan></text>
<path d="M98.7,292.0 H105.5" stroke="#1a1a1a" stroke-width="1.4"/>
<text class="serif" x="97.0" y="296.3" font-size="12.5" fill="#222" text-anchor="end">2.5×10<tspan font-size="8.5" dx="0.8" dy="-4.5">7</tspan></text>
<path d="M140.1,469.6 V477" stroke="#1a1a1a" stroke-width="1.4"/>
<path d="M191.0,469.6 V477" stroke="#1a1a1a" stroke-width="1.4"/>
<path d="M242.0,469.6 V477" stroke="#1a1a1a" stroke-width="1.4"/>
<path d="M293.0,469.6 V477" stroke="#1a1a1a" stroke-width="1.4"/>
<path d="M344.0,469.6 V477" stroke="#1a1a1a" stroke-width="1.4"/>
<text class="serif" x="139.4" y="490.2" font-size="12.1" fill="#222" text-anchor="middle" >Control</text>
<text class="serif" x="190.8" y="490.2" font-size="12.1" fill="#222" text-anchor="middle" >Model</text>
<text class="serif" x="241.4" y="490.2" font-size="12.1" fill="#222" text-anchor="middle" >HNEF</text>
<text class="serif" x="292.7" y="490.2" font-size="12.1" fill="#222" text-anchor="middle" >Model</text>
<text class="serif" x="343.4" y="490.2" font-size="12.1" fill="#222" text-anchor="middle" >HNEF</text>
<rect x="173.3" y="494.0" width="83.9" height="1.6" fill="#1a1a1a"/>
<rect x="274.4" y="494.0" width="90.3" height="1.6" fill="#1a1a1a"/>
<text class="serif" x="208.7" y="508.4" font-size="11.7" fill="#222" text-anchor="middle" >0.8% Phenoxyethanol</text>
<text class="serif" x="318.8" y="508.4" font-size="11.7" fill="#222" text-anchor="middle" >0.2% Methylparaben</text>
<text class="serif" x="191.4" y="425.6" font-size="11.2" fill="#333" text-anchor="middle" >#</text>
<text class="serif" x="292.7" y="390.2" font-size="11.2" fill="#333" text-anchor="middle" >#</text>
<text class="serif" x="242.5" y="346.2" font-size="12.5" fill="#222" text-anchor="middle" >*</text>
<text class="serif" x="343.9" y="355.8" font-size="12.5" fill="#222" text-anchor="middle" >*</text>
<text class="serif" transform="translate(47.9,382.1) rotate(-90)" font-size="11.9" fill="#222" text-anchor="middle">Total number of bacteria (CFU/mL)</text>
</g>
<g id="bar2">
<rect x="456.2" y="404.3" width="9.2" height="63.0" fill="#14467c"/>
<path d="M460.8,404.3 V393.1 M458.2,393.1 H463.4" stroke="#14467c" stroke-width="1" fill="none"/>
<rect x="470.5" y="347.3" width="9.2" height="120.0" fill="#2e7cb8"/>
<path d="M475.1,347.3 V336.7 M472.5,336.7 H477.7" stroke="#2e7cb8" stroke-width="1" fill="none"/>
<rect x="484.8" y="391.4" width="9.2" height="75.9" fill="#de6b55"/>
<path d="M489.4,391.4 V378.2 M486.8,378.2 H492.0" stroke="#de6b55" stroke-width="1" fill="none"/>
<rect x="508.6" y="446.2" width="9.2" height="21.1" fill="#14467c"/>
<path d="M513.2,446.2 V439.4 M510.6,439.4 H515.8" stroke="#14467c" stroke-width="1" fill="none"/>
<text class="serif" x="513.8" y="438.4" font-size="10.6" fill="#333" text-anchor="middle" >#</text>
<rect x="522.9" y="377.0" width="9.2" height="90.3" fill="#2e7cb8"/>
<path d="M527.5,377.0 V374.1 M524.9,374.1 H530.1" stroke="#2e7cb8" stroke-width="1" fill="none"/>
<text class="serif" x="528.1" y="373.0" font-size="10.6" fill="#333" text-anchor="middle" >#</text>
<rect x="537.2" y="398.8" width="9.2" height="68.5" fill="#de6b55"/>
<path d="M541.8,398.8 V394.7 M539.2,394.7 H544.4" stroke="#de6b55" stroke-width="1" fill="none"/>
<text class="serif" x="541.8" y="391.6" font-size="11" fill="#222" text-anchor="middle" >ns</text>
<rect x="560.7" y="394.2" width="9.2" height="73.1" fill="#14467c"/>
<path d="M565.3,394.2 V384.4 M562.7,384.4 H567.9" stroke="#14467c" stroke-width="1" fill="none"/>
<text class="serif" x="565.3" y="385.6" font-size="12.5" fill="#222" text-anchor="middle" >*</text>
<rect x="575.0" y="359.8" width="9.2" height="107.5" fill="#2e7cb8"/>
<path d="M579.6,359.8 V352.1 M577.0,352.1 H582.2" stroke="#2e7cb8" stroke-width="1" fill="none"/>
<text class="serif" x="579.6" y="352.8" font-size="12.5" fill="#222" text-anchor="middle" >*</text>
<rect x="589.3" y="383.2" width="9.2" height="84.1" fill="#de6b55"/>
<path d="M593.9,383.2 V372.5 M591.3,372.5 H596.5" stroke="#de6b55" stroke-width="1" fill="none"/>
<text class="serif" x="593.9" y="369.8" font-size="11" fill="#222" text-anchor="middle" >ns</text>
<rect x="612.9" y="415.1" width="9.2" height="52.2" fill="#14467c"/>
<path d="M617.5,415.1 V402.0 M614.9,402.0 H620.1" stroke="#14467c" stroke-width="1" fill="none"/>
<text class="serif" x="617.5" y="399.2" font-size="11" fill="#222" text-anchor="middle" >ns</text>
<rect x="627.2" y="371.4" width="9.2" height="95.9" fill="#2e7cb8"/>
<path d="M631.8,371.4 V368.9 M629.2,368.9 H634.4" stroke="#2e7cb8" stroke-width="1" fill="none"/>
<text class="serif" x="632.4" y="366.8" font-size="10.6" fill="#333" text-anchor="middle" >#</text>
<rect x="641.5" y="376.3" width="9.2" height="91.0" fill="#de6b55"/>
<path d="M646.1,376.3 V373.4 M643.5,373.4 H648.7" stroke="#de6b55" stroke-width="1" fill="none"/>
<text class="serif" x="646.1" y="371.8" font-size="11" fill="#222" text-anchor="middle" >ns</text>
<rect x="665.0" y="400.0" width="9.2" height="67.3" fill="#14467c"/>
<path d="M669.6,400.0 V395.4 M667.0,395.4 H672.2" stroke="#14467c" stroke-width="1" fill="none"/>
<text class="serif" x="669.6" y="395.8" font-size="12.5" fill="#222" text-anchor="middle" >*</text>
<rect x="679.3" y="356.4" width="9.2" height="110.9" fill="#2e7cb8"/>
<path d="M683.9,356.4 V354.4 M681.3,354.4 H686.5" stroke="#2e7cb8" stroke-width="1" fill="none"/>
<text class="serif" x="683.9" y="354.6" font-size="12.5" fill="#222" text-anchor="middle" >*</text>
<rect x="693.6" y="371.1" width="9.2" height="96.2" fill="#de6b55"/>
<path d="M698.2,371.1 V370.6 M695.6,370.6 H700.8" stroke="#de6b55" stroke-width="1" fill="none"/>
<text class="serif" x="698.2" y="371.4" font-size="12.5" fill="#222" text-anchor="middle" >*</text>
<path d="M451.7,296.3 V468.0" stroke="#3b3b8c" stroke-width="1.4" fill="none"/>
<path d="M444.9,467.3 H709.2" stroke="#3b3b8c" stroke-width="1.4" fill="none"/>
<text class="serif" x="443.4" y="471.1" font-size="11.8" fill="#222" text-anchor="end">10<tspan font-size="7.8" dx="1.2" dy="-4.6">5</tspan></text>
<path d="M444.9,410.3 H451.7" stroke="#3b3b8c" stroke-width="1.4"/>
<text class="serif" x="443.4" y="414.1" font-size="11.8" fill="#222" text-anchor="end">10<tspan font-size="7.8" dx="1.2" dy="-4.6">6</tspan></text>
<path d="M444.9,353.4 H451.7" stroke="#3b3b8c" stroke-width="1.4"/>
<text class="serif" x="443.4" y="357.2" font-size="11.8" fill="#222" text-anchor="end">10<tspan font-size="7.8" dx="1.2" dy="-4.6">7</tspan></text>
<path d="M444.9,296.4 H451.7" stroke="#3b3b8c" stroke-width="1.4"/>
<text class="serif" x="443.4" y="300.2" font-size="11.8" fill="#222" text-anchor="end">10<tspan font-size="7.8" dx="1.2" dy="-4.6">8</tspan></text>
<path d="M475.1,467.3 V474.1" stroke="#3b3b8c" stroke-width="1.4"/>
<path d="M527.5,467.3 V474.1" stroke="#3b3b8c" stroke-width="1.4"/>
<path d="M579.6,467.3 V474.1" stroke="#3b3b8c" stroke-width="1.4"/>
<path d="M631.8,467.3 V474.1" stroke="#3b3b8c" stroke-width="1.4"/>
<path d="M683.9,467.3 V474.1" stroke="#3b3b8c" stroke-width="1.4"/>
<text class="serif" x="474.9" y="487.3" font-size="11.7" fill="#222" text-anchor="middle" >Control</text>
<text class="serif" x="527.5" y="487.3" font-size="11.7" fill="#222" text-anchor="middle" >Model</text>
<text class="serif" x="579.5" y="487.3" font-size="11.7" fill="#222" text-anchor="middle" >HNEF</text>
<text class="serif" x="631.5" y="487.3" font-size="11.7" fill="#222" text-anchor="middle" >Model</text>
<text class="serif" x="683.4" y="487.3" font-size="11.7" fill="#222" text-anchor="middle" >HNEF</text>
<rect x="508.3" y="492.1" width="85.3" height="1.6" fill="#4a4a9c"/>
<rect x="614.4" y="492.1" width="88.9" height="1.6" fill="#4a4a9c"/>
<text class="serif" x="551.9" y="508.3" font-size="11.4" fill="#222" text-anchor="middle" >0.8% Phenoxyethanol</text>
<text class="serif" x="660.9" y="508.3" font-size="11.45" fill="#222" text-anchor="middle" >0.2% Methylparaben</text>
<text class="serif" transform="translate(416.6,382.6) rotate(-90)" font-size="11.6" fill="#222" text-anchor="middle">Bacteria (CFU/mL)</text>
<rect x="715.4" y="313.3" width="18" height="6" fill="#14467c"/>
<text class="serif" x="744" y="319.7" font-size="11.6" font-style="italic" fill="#1b3c6c" stroke="#1b3c6c" stroke-width="0.2">S.aureus</text>
<rect x="715.4" y="325.0" width="18" height="6" fill="#2e7cb8"/>
<text class="serif" x="744" y="331.4" font-size="11.6" font-style="italic" fill="#3b79a9" stroke="#3b79a9" stroke-width="0.2">S.epidermid.</text>
<rect x="715.4" y="338.4" width="18" height="6" fill="#de6b55"/>
<text class="serif" x="744" y="344.8" font-size="11.6" font-style="italic" fill="#c9665a" stroke="#c9665a" stroke-width="0.2">P.acnes</text>
</g>
<g id="chrom">
<rect x="846.8" y="282.2" width="392.6" height="204.1" fill="none" stroke="#333" stroke-width="1.2"/>
<path d="M846.8,486.3 v-3.2 M858.7,486.3 v-1.8 M870.6,486.3 v-1.8 M882.5,486.3 v-1.8 M894.4,486.3 v-1.8 M906.2,486.3 v-3.2 M918.1,486.3 v-1.8 M930.0,486.3 v-1.8 M941.9,486.3 v-1.8 M953.8,486.3 v-1.8 M965.7,486.3 v-3.2 M977.6,486.3 v-1.8 M989.5,486.3 v-1.8 M1001.3,486.3 v-1.8 M1013.2,486.3 v-1.8 M1025.1,486.3 v-3.2 M1037.0,486.3 v-1.8 M1048.9,486.3 v-1.8 M1060.8,486.3 v-1.8 M1072.7,486.3 v-1.8 M1084.6,486.3 v-3.2 M1096.4,486.3 v-1.8 M1108.3,486.3 v-1.8 M1120.2,486.3 v-1.8 M1132.1,486.3 v-1.8 M1144.0,486.3 v-3.2 M1155.9,486.3 v-1.8 M1167.8,486.3 v-1.8 M1179.7,486.3 v-1.8 M1191.6,486.3 v-1.8 M1203.4,486.3 v-3.2 M1215.3,486.3 v-1.8 M1227.2,486.3 v-1.8 M1239.1,486.3 v-1.8" stroke="#555" stroke-width="0.6" fill="none"/>
<text class="sans" x="846.8" y="498.4" font-size="7.3" fill="#444" text-anchor="middle">0.0</text>
<text class="sans" x="906.2" y="498.4" font-size="7.3" fill="#444" text-anchor="middle">5.0</text>
<text class="sans" x="965.7" y="498.4" font-size="7.3" fill="#444" text-anchor="middle">10.0</text>
<text class="sans" x="1025.1" y="498.4" font-size="7.3" fill="#444" text-anchor="middle">15.0</text>
<text class="sans" x="1084.6" y="498.4" font-size="7.3" fill="#444" text-anchor="middle">20.0</text>
<text class="sans" x="1144.0" y="498.4" font-size="7.3" fill="#444" text-anchor="middle">25.0</text>
<text class="sans" x="1203.4" y="498.4" font-size="7.3" fill="#444" text-anchor="middle">30.0</text>
<path d="M846.8,436.6 L858.9,436.6 L871.1,436.6 L883.2,436.6 L895.3,436.6 L907.4,436.6 L919.6,436.6 L931.7,436.6 L943.8,436.6 L955.9,436.6 L968.1,436.6 L980.2,436.6 L992.3,436.6 L1004.4,436.6 L1016.6,436.6 L1028.7,436.6 L1040.8,436.6 L1052.9,436.6 L1065.1,436.6 L1066.1,436.5 L1066.5,436.4 L1066.8,436.3 L1067.2,436.2 L1067.6,436.0 L1067.9,435.7 L1068.3,435.4 L1068.6,434.9 L1069.0,434.2 L1069.3,433.3 L1069.7,432.2 L1070.1,430.7 L1070.4,428.8 L1070.8,426.5 L1071.1,423.7 L1071.5,420.2 L1071.8,416.1 L1072.2,411.3 L1072.6,405.7 L1072.9,399.3 L1073.3,392.2 L1073.6,384.4 L1074.0,375.9 L1074.3,366.9 L1074.7,357.6 L1075.0,348.2 L1075.4,338.8 L1075.8,329.7 L1076.1,321.3 L1076.5,313.7 L1076.8,307.2 L1077.2,302.0 L1077.5,298.4 L1077.9,296.4 L1078.3,296.0 L1078.6,297.0 L1079.0,299.0 L1079.3,302.2 L1079.7,306.3 L1080.0,311.2 L1080.4,316.9 L1080.8,323.2 L1081.1,329.9 L1081.5,336.8 L1081.8,343.8 L1082.2,350.6 L1082.5,357.1 L1082.9,363.1 L1083.3,368.5 L1083.6,373.2 L1084.0,377.1 L1084.3,380.1 L1084.7,382.2 L1085.0,383.5 L1085.4,384.1 L1085.7,384.1 L1086.1,383.6 L1086.5,382.9 L1086.8,382.2 L1087.2,381.6 L1087.5,381.4 L1087.9,381.6 L1088.2,382.5 L1088.6,383.9 L1089.0,385.7 L1089.3,387.8 L1089.7,390.3 L1090.0,393.2 L1090.4,396.3 L1090.7,399.6 L1091.1,403.0 L1091.5,406.4 L1091.8,409.8 L1092.2,413.1 L1092.5,416.3 L1092.9,419.2 L1093.2,421.9 L1093.6,424.3 L1094.0,426.5 L1094.3,428.3 L1094.7,429.9 L1095.0,431.3 L1095.4,432.4 L1095.7,433.4 L1096.1,434.1 L1096.4,434.7 L1096.8,435.2 L1097.2,435.6 L1097.5,435.8 L1097.9,436.1 L1098.2,436.2 L1098.6,436.3 L1098.9,436.4 L1099.7,436.5 L1101.8,436.6 L1113.9,436.6 L1126.0,436.6 L1138.2,436.6 L1150.3,436.6 L1162.4,436.6 L1174.6,436.6 L1179.5,436.6 L1179.9,436.1 L1180.3,436.1 L1180.6,434.9 L1181.0,433.7 L1181.3,432.7 L1181.7,432.4 L1182.0,432.5 L1182.4,432.7 L1182.8,432.8 L1183.1,432.9 L1183.5,433.0 L1183.8,433.1 L1184.2,433.2 L1184.5,433.3 L1184.9,433.4 L1185.3,433.5 L1185.6,433.6 L1186.0,433.6 L1186.3,433.7 L1187.0,433.9 L1187.7,434.0 L1188.5,434.1 L1189.2,434.3 L1189.9,434.4 L1190.6,434.5 L1191.3,434.6 L1192.0,434.7 L1192.7,434.8 L1193.5,434.9 L1194.5,435.0 L1195.6,435.1 L1196.7,435.2 L1197.7,435.3 L1199.2,435.4 L1200.6,435.5 L1202.4,435.6 L1204.2,435.6 L1206.3,435.7 L1209.1,435.8 L1212.7,435.9 L1218.4,436.0 L1230.5,436.1 L1239.1,436.1" stroke="#8aa6d8" stroke-width="1.3" fill="none" stroke-linejoin="round"/>
<path d="M846.8,457.6 L858.9,457.6 L871.1,457.6 L883.2,457.6 L895.3,457.6 L907.4,457.6 L915.6,457.5 L916.3,457.4 L916.7,457.3 L917.1,457.2 L917.4,457.0 L917.8,456.8 L918.1,456.6 L918.5,456.3 L918.8,455.9 L919.2,455.4 L919.6,454.8 L919.9,454.1 L920.3,453.2 L920.6,452.2 L921.0,451.0 L921.3,449.7 L921.7,448.1 L922.1,446.4 L922.4,444.6 L922.8,442.5 L923.1,440.4 L923.5,438.1 L923.8,435.8 L924.2,433.5 L924.5,431.2 L924.9,429.0 L925.3,426.9 L925.6,425.1 L926.0,423.5 L926.3,422.1 L926.7,421.2 L927.0,420.6 L927.4,420.4 L927.8,420.6 L928.1,421.2 L928.5,422.1 L928.8,423.5 L929.2,425.1 L929.5,426.9 L929.9,429.0 L930.3,431.2 L930.6,433.5 L931.0,435.8 L931.3,438.1 L931.7,440.4 L932.0,442.5 L932.4,444.6 L932.8,446.4 L933.1,448.1 L933.5,449.7 L933.8,451.0 L934.2,452.2 L934.5,453.2 L934.9,454.1 L935.2,454.8 L935.6,455.4 L936.0,455.9 L936.3,456.3 L936.7,456.6 L937.0,456.8 L937.4,457.0 L937.7,457.2 L938.1,457.3 L938.5,457.4 L939.2,457.5 L940.6,457.6 L952.7,457.6 L964.8,457.6 L977.0,457.6 L989.1,457.6 L1001.2,457.6 L1013.4,457.6 L1025.5,457.6 L1037.6,457.6 L1049.7,457.6 L1052.2,457.6 L1052.6,457.1 L1053.7,457.0 L1054.0,456.9 L1054.4,456.8 L1054.7,456.7 L1055.1,456.6 L1055.4,456.5 L1055.8,456.4 L1056.1,456.3 L1056.5,456.2 L1057.9,456.2 L1058.3,456.3 L1058.6,456.4 L1059.0,456.5 L1059.4,456.6 L1059.7,456.7 L1060.1,456.8 L1060.4,456.9 L1061.1,457.0 L1062.9,457.1 L1075.0,457.1 L1087.2,457.1 L1099.3,457.1 L1111.4,457.1 L1123.6,457.1 L1135.7,457.1 L1147.8,457.1 L1159.9,457.1 L1172.1,457.1 L1184.2,457.1 L1196.3,457.1 L1208.4,457.1 L1220.6,457.1 L1232.7,457.1 L1239.1,457.1" stroke="#2ba58b" stroke-width="1.7" fill="none" stroke-linejoin="round"/>
<path d="M846.8,477.6 L858.9,477.6 L870.7,477.5 L871.1,477.5 L871.4,477.3 L871.8,476.9 L872.1,476.3 L872.5,475.4 L872.8,474.1 L873.2,472.5 L873.5,470.8 L873.9,469.3 L874.3,468.4 L874.6,468.2 L875.0,468.9 L875.3,470.2 L875.7,471.9 L876.0,473.6 L876.4,475.0 L876.8,476.1 L877.1,476.8 L877.5,477.2 L877.8,477.4 L878.2,477.5 L890.3,477.6 L902.4,477.6 L914.6,477.6 L919.2,477.5 L919.9,477.4 L920.3,477.3 L920.6,477.1 L921.0,476.9 L921.3,476.6 L921.7,476.2 L922.1,475.7 L922.4,475.1 L922.8,474.2 L923.1,473.3 L923.5,472.1 L923.8,470.8 L924.2,469.4 L924.5,467.8 L924.9,466.2 L925.3,464.6 L925.6,463.0 L926.0,461.6 L926.3,460.4 L926.7,459.6 L927.0,459.0 L927.4,458.8 L927.8,459.0 L928.1,459.6 L928.5,460.4 L928.8,461.6 L929.2,463.0 L929.5,464.6 L929.9,466.2 L930.3,467.8 L930.6,469.4 L931.0,470.8 L931.3,472.1 L931.7,473.3 L932.0,474.2 L932.4,475.1 L932.8,475.7 L933.1,476.2 L933.5,476.6 L933.8,476.9 L934.2,477.1 L934.5,477.3 L934.9,477.4 L935.6,477.5 L937.7,477.6 L949.9,477.6 L957.0,477.6 L957.4,477.5 L957.7,477.1 L958.1,476.1 L958.4,473.9 L958.8,470.2 L959.1,465.1 L959.5,460.1 L959.9,457.0 L960.2,456.7 L960.6,457.3 L960.9,458.3 L961.3,459.1 L961.6,459.6 L962.0,459.3 L962.4,458.6 L962.7,457.9 L963.1,457.7 L963.4,458.4 L963.8,459.6 L964.1,461.2 L964.5,462.9 L964.8,464.9 L965.2,466.9 L965.6,468.9 L965.9,470.8 L966.3,472.4 L966.6,473.8 L967.0,474.9 L967.3,475.8 L967.7,476.4 L968.1,476.8 L968.4,477.1 L968.8,477.3 L969.1,477.4 L969.8,477.6 L982.0,477.6 L994.1,477.6 L1006.2,477.6 L1018.3,477.6 L1030.5,477.6 L1042.6,477.6 L1049.7,477.5 L1050.4,477.4 L1051.2,477.3 L1051.5,477.2 L1051.9,477.1 L1052.2,477.0 L1052.6,476.8 L1052.9,476.7 L1053.3,476.5 L1053.7,476.4 L1054.0,475.7 L1054.4,475.6 L1054.7,475.5 L1056.1,475.5 L1056.5,475.6 L1056.9,475.7 L1057.2,475.8 L1057.6,475.9 L1057.9,476.1 L1058.3,476.2 L1058.6,476.4 L1059.0,476.5 L1059.4,476.6 L1059.7,476.7 L1060.4,476.8 L1061.1,476.9 L1063.3,477.0 L1066.8,477.0 L1067.2,476.9 L1067.6,476.6 L1067.9,475.9 L1068.3,474.4 L1068.6,471.6 L1069.0,467.6 L1069.3,463.0 L1069.7,459.2 L1070.1,457.7 L1070.4,459.2 L1070.8,463.0 L1071.1,467.6 L1071.5,471.6 L1071.8,474.4 L1072.2,475.9 L1072.6,476.6 L1072.9,476.9 L1073.3,477.0 L1085.4,477.0 L1097.5,477.0 L1109.6,477.0 L1121.8,477.0 L1133.9,477.0 L1146.0,477.0 L1158.1,477.0 L1170.3,477.0 L1182.4,477.0 L1194.5,477.0 L1206.6,477.0 L1218.8,477.0 L1230.9,477.0 L1239.1,477.0" stroke="#dc5a48" stroke-width="1.35" fill="none" stroke-linejoin="round"/>
<circle cx="927.9" cy="407.7" r="2.9" fill="#1a1212"/>
<path d="M1075.5,286.4 h6.2 l-3.1,5.7 Z" fill="#1a1212"/>
<circle cx="1163.2" cy="303.8" r="2.2" fill="#1a1212"/>
<path d="M1161.2,320.4 h5 l-2.5,4.8 Z" fill="#1a1212"/>
<text class="sans" x="1169.6" y="307" font-size="9.2" fill="#333">Arbutin</text>
<text class="sans" x="1169.6" y="325.4" font-size="9.2" fill="#333">Hydroquinone</text>
<text class="sans" x="1054.7" y="513.6" font-size="10.8" fill="#333" text-anchor="middle">Time (min)</text>
<text class="sans" transform="translate(836.8,374) rotate(-90)" font-size="11.1" fill="#333" text-anchor="middle">Absorbance (mAU)</text>
</g>
</g>
</svg>
</body></html>
